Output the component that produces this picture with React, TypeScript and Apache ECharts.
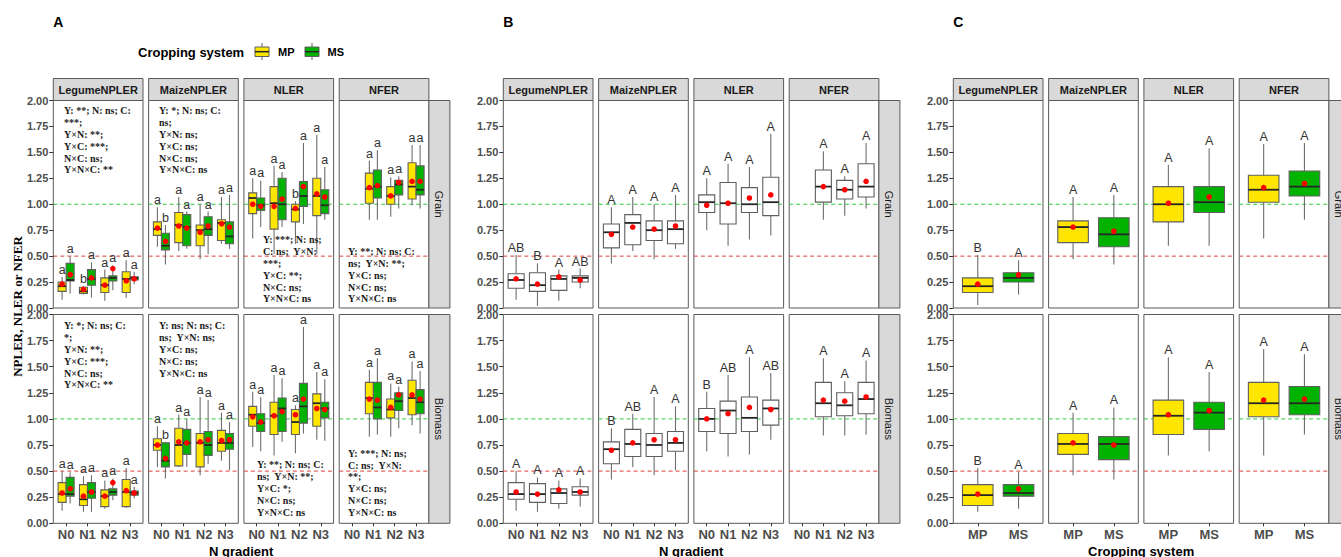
import React, { useEffect, useRef } from 'react';
import * as echarts from 'echarts';

// ---------- categories & labels ----------
const N_LEVELS = ['N0', 'N1', 'N2', 'N3'];
const SYSTEMS = ['MP', 'MS'];
const INDICES = ['LegumeNPLER', 'MaizeNPLER', 'NLER', 'NFER'];
const ROWS = ['Grain', 'Biomass'];
const PANEL_TAGS = ['A', 'B', 'C'];
const X_TITLES = ['N gradient', 'N gradient', 'Cropping system'];
const Y_TITLE = 'NPLER, NLER or NFER';
const LEGEND_TITLE = 'Cropping system';
const Y_MIN = 0;
const Y_MAX = 2;
const Y_STEP = 0.25;
const REF_LINES = [1.0, 0.5];

// ---------- data: each box = [min, q1, median, q3, max, mean] ----------
// Panel A (index x N level)
const A_GRAIN_MP = [
  [[0.08, 0.16, 0.21, 0.25, 0.30, 0.23], [0.13, 0.14, 0.16, 0.20, 0.21, 0.18], [0.07, 0.15, 0.22, 0.29, 0.37, 0.22], [0.10, 0.15, 0.28, 0.35, 0.46, 0.27]],
  [[0.59, 0.70, 0.76, 0.83, 0.97, 0.77], [0.55, 0.63, 0.80, 0.92, 1.07, 0.79], [0.47, 0.60, 0.75, 0.80, 1.00, 0.73], [0.62, 0.65, 0.82, 0.85, 1.07, 0.82]],
  [[0.67, 0.91, 1.06, 1.11, 1.25, 1.00], [0.52, 0.76, 1.01, 1.17, 1.37, 0.98], [0.62, 0.83, 0.95, 1.00, 1.03, 0.96], [0.52, 0.89, 1.08, 1.25, 1.67, 1.10]],
  [null, [0.85, 1.01, 1.15, 1.30, 1.42, 1.16], [0.88, 1.00, 1.08, 1.17, 1.26, 1.08], [0.99, 1.05, 1.17, 1.40, 1.57, 1.22]],
];
const A_GRAIN_MS = [
  [[0.14, 0.26, 0.27, 0.43, 0.50, 0.33], [0.10, 0.22, 0.28, 0.37, 0.44, 0.29], [0.17, 0.26, 0.29, 0.31, 0.41, 0.38], [0.23, 0.27, 0.29, 0.30, 0.35, 0.28]],
  [[0.42, 0.56, 0.60, 0.72, 0.80, 0.65], [0.57, 0.60, 0.78, 0.90, 0.93, 0.77], [0.52, 0.70, 0.76, 0.88, 0.93, 0.79], [0.57, 0.62, 0.69, 0.83, 1.09, 0.78]],
  [[0.78, 0.94, 0.99, 1.06, 1.23, 0.98], [0.78, 0.85, 1.00, 1.25, 1.31, 1.05], [0.81, 0.98, 1.08, 1.22, 1.59, 1.17], [0.85, 0.91, 0.99, 1.14, 1.36, 1.07]],
  [null, [0.85, 1.06, 1.17, 1.33, 1.52, 1.18], [0.96, 1.09, 1.19, 1.23, 1.27, 1.21], [0.96, 1.09, 1.14, 1.37, 1.57, 1.22]],
];
const A_BIOMASS_MP = [
  [[0.12, 0.20, 0.28, 0.39, 0.50, 0.29], [0.11, 0.17, 0.23, 0.37, 0.45, 0.26], [0.14, 0.16, 0.26, 0.32, 0.41, 0.26], [0.15, 0.16, 0.30, 0.42, 0.53, 0.32]],
  [[0.54, 0.70, 0.75, 0.81, 0.93, 0.75], [0.54, 0.55, 0.75, 0.91, 1.04, 0.78], [0.46, 0.54, 0.77, 0.86, 1.21, 0.78], [0.60, 0.69, 0.77, 0.89, 1.06, 0.80]],
  [[0.73, 0.93, 1.04, 1.12, 1.26, 1.02], [0.65, 0.85, 1.03, 1.16, 1.42, 1.03], [0.67, 0.85, 0.97, 1.09, 1.13, 1.04], [0.80, 0.93, 1.15, 1.24, 1.45, 1.10]],
  [null, [0.83, 1.05, 1.20, 1.35, 1.47, 1.19], [0.83, 1.01, 1.09, 1.19, 1.34, 1.11], [0.94, 1.04, 1.20, 1.37, 1.55, 1.23]],
];
const A_BIOMASS_MS = [
  [[0.19, 0.26, 0.28, 0.44, 0.49, 0.34], [0.11, 0.24, 0.30, 0.39, 0.46, 0.30], [0.22, 0.27, 0.30, 0.33, 0.43, 0.39], [0.24, 0.27, 0.29, 0.31, 0.35, 0.29]],
  [[0.43, 0.54, 0.60, 0.77, 0.78, 0.63], [0.54, 0.66, 0.77, 0.90, 1.00, 0.77], [0.57, 0.65, 0.75, 0.88, 1.18, 0.80], [0.51, 0.71, 0.77, 0.86, 0.97, 0.80]],
  [[0.69, 0.88, 0.96, 1.05, 1.21, 0.97], [0.78, 0.88, 1.10, 1.20, 1.39, 1.07], [0.86, 0.96, 1.12, 1.34, 1.88, 1.19], [0.79, 1.01, 1.10, 1.16, 1.38, 1.09]],
  [null, [0.85, 1.00, 1.11, 1.35, 1.58, 1.18], [0.91, 1.08, 1.17, 1.25, 1.31, 1.23], [0.86, 1.05, 1.16, 1.28, 1.46, 1.19]],
];
const A_GRAIN_MP_LETTERS = [['a', 'b', 'a', 'a'], ['a', 'a', 'a', 'a'], ['a', 'a', 'b', 'a'], ['', 'a', 'a', 'a']];
const A_GRAIN_MS_LETTERS = [['a', 'a', 'a', 'a'], ['b', 'a', 'a', 'a'], ['a', 'a', 'a', 'a'], ['', 'a', 'a', 'a']];
const A_BIOMASS_MP_LETTERS = [['a', 'a', 'a', 'a'], ['a', 'a', 'a', 'a'], ['a', 'a', 'a', 'a'], ['', 'a', 'a', 'a']];
const A_BIOMASS_MS_LETTERS = [['a', 'a', 'a', 'a'], ['b', 'a', 'a', 'a'], ['a', 'a', 'a', 'a'], ['', 'a', 'a', 'a']];

// Panel B (index x N level)
const B_GRAIN = [
  [[0.08, 0.19, 0.27, 0.33, 0.51, 0.28], [0.02, 0.16, 0.22, 0.34, 0.43, 0.23], [0.07, 0.17, 0.28, 0.31, 0.37, 0.30], [0.19, 0.25, 0.29, 0.31, 0.38, 0.27]],
  [[0.43, 0.58, 0.73, 0.81, 0.97, 0.71], [0.55, 0.61, 0.82, 0.90, 1.07, 0.78], [0.47, 0.65, 0.75, 0.84, 1.00, 0.76], [0.57, 0.62, 0.76, 0.84, 1.09, 0.79]],
  [[0.75, 0.92, 1.02, 1.09, 1.25, 0.99], [0.60, 0.81, 1.01, 1.21, 1.39, 1.01], [0.66, 0.92, 1.00, 1.16, 1.36, 1.06], [0.70, 0.89, 1.02, 1.26, 1.68, 1.09]],
  [null, [0.85, 1.02, 1.17, 1.33, 1.51, 1.17], [0.89, 1.05, 1.14, 1.23, 1.27, 1.14], [0.96, 1.07, 1.17, 1.39, 1.59, 1.22]],
];
const B_BIOMASS = [
  [[0.12, 0.23, 0.28, 0.39, 0.50, 0.30], [0.11, 0.20, 0.28, 0.38, 0.44, 0.28], [0.14, 0.19, 0.29, 0.33, 0.41, 0.32], [0.16, 0.27, 0.30, 0.35, 0.43, 0.30]],
  [[0.42, 0.57, 0.71, 0.78, 0.91, 0.70], [0.54, 0.64, 0.76, 0.90, 1.05, 0.77], [0.46, 0.64, 0.75, 0.86, 1.21, 0.80], [0.51, 0.69, 0.77, 0.88, 1.12, 0.80]],
  [[0.69, 0.88, 1.00, 1.10, 1.26, 1.00], [0.64, 0.86, 1.08, 1.17, 1.42, 1.05], [0.66, 0.88, 1.01, 1.21, 1.59, 1.11], [0.80, 0.94, 1.10, 1.18, 1.44, 1.09]],
  [null, [0.84, 1.02, 1.15, 1.35, 1.58, 1.18], [0.84, 1.03, 1.13, 1.25, 1.36, 1.17], [0.85, 1.05, 1.19, 1.35, 1.56, 1.21]],
];
const B_GRAIN_LETTERS = [['AB', 'B', 'A', 'AB'], ['A', 'A', 'A', 'A'], ['A', 'A', 'A', 'A'], ['', 'A', 'A', 'A']];
const B_BIOMASS_LETTERS = [['A', 'A', 'A', 'A'], ['B', 'AB', 'A', 'A'], ['B', 'AB', 'A', 'AB'], ['', 'A', 'A', 'A']];

// Panel C (index x cropping system)
const C_GRAIN = [
  [[0.03, 0.15, 0.21, 0.29, 0.51, 0.23], [0.13, 0.25, 0.29, 0.34, 0.46, 0.32]],
  [[0.47, 0.63, 0.78, 0.84, 1.07, 0.78], [0.42, 0.59, 0.71, 0.87, 1.09, 0.74]],
  [[0.60, 0.83, 1.00, 1.17, 1.38, 1.01], [0.60, 0.92, 1.02, 1.17, 1.54, 1.07]],
  [[0.67, 1.02, 1.14, 1.28, 1.58, 1.16], [0.85, 1.08, 1.17, 1.32, 1.59, 1.20]],
];
const C_BIOMASS = [
  [[0.11, 0.17, 0.27, 0.37, 0.53, 0.28], [0.14, 0.26, 0.29, 0.37, 0.49, 0.33]],
  [[0.46, 0.66, 0.76, 0.86, 1.06, 0.77], [0.42, 0.61, 0.76, 0.83, 1.11, 0.75]],
  [[0.65, 0.85, 1.03, 1.18, 1.59, 1.04], [0.69, 0.90, 1.06, 1.16, 1.45, 1.08]],
  [[0.65, 1.02, 1.15, 1.35, 1.67, 1.18], [0.85, 1.04, 1.15, 1.31, 1.62, 1.19]],
];
const C_GRAIN_LETTERS = [['B', 'A'], ['A', 'A'], ['A', 'A'], ['A', 'A']];
const C_BIOMASS_LETTERS = [['B', 'A'], ['A', 'A'], ['A', 'A'], ['A', 'A']];

// Significance annotations for panel A (row x index)
const A_ANNOTATIONS = [
  [
    ['Y: **; N: ns; C:', '***;', 'Y×N: **;', 'Y×C: ***;', 'N×C: ns;', 'Y×N×C: **'],
    ['Y: *; N: ns; C:', 'ns;', 'Y×N: ns;', 'Y×C: ns;', 'N×C: ns;', 'Y×N×C: ns'],
    ['Y: ***; N: ns;', 'C: ns;  Y×N:', '***;', 'Y×C: **;', 'N×C: ns;', 'Y×N×C: ns'],
    ['Y: **; N: ns; C:', 'ns;  Y×N: **;', 'Y×C: ns;', 'N×C: ns;', 'Y×N×C: ns'],
  ],
  [
    ['Y: *; N: ns; C:', '*;', 'Y×N: **;', 'Y×C: ***;', 'N×C: ns;', 'Y×N×C: **'],
    ['Y: ns; N: ns; C:', 'ns;  Y×N: ns;', 'Y×C: ns;', 'N×C: ns;', 'Y×N×C: ns'],
    ['Y: **; N: ns; C:', 'ns;  Y×N: **;', 'Y×C: *;', 'N×C: ns;', 'Y×N×C: ns'],
    ['Y: ***; N: ns;', 'C: ns;  Y×N:', '**;', 'Y×C: ns;', 'N×C: ns;', 'Y×N×C: ns'],
  ],
];

// ---------- layout & style ----------
const SANS = '"Liberation Sans", Arial, sans-serif';
const SERIF = '"Liberation Serif", "Times New Roman", serif';
const PANEL_LEFT = [53.3, 503.3, 953.3];
const FACET_STEP = 95.3;
const FACET_W = 89.7;
const ROW_TOP = [100.5, 314.5];
const ROW_H = [207.5, 208.8];
const STRIP_TOP = 78.5;
const STRIP_H = 22;
const RSTRIP_W = 21;
// [dx from facet left, centre of first line from row top]
const ANNOT_POS = [
  [[10.7, 10.5], [10.4, 10.5], [19, 139.5], [8.8, 151.2]],
  [[10.7, 11.5], [10.4, 11.5], [13, 150.5], [8.8, 138.8]],
];
const ANNOT_LH = 11.8;

const YELLOW = '#FFE600';
const GREEN = '#00B300';
const WHITE = '#FFFFFF';
const BOX_STROKE = '#5f5f5f';
const WHISKER = '#6e6e6e';
const MEDIAN = '#262626';
const MEAN_C = '#FF0000';
const BORDER = '#5a5a5a';
const STRIP_FILL = '#d9d9d9';
const REF_COLORS = ['#2ecc40', '#d9413a'];
const TICK_C = '#4d4d4d';

type Item = { x: number; stat: number[]; fill: string; w: number; letter: string };

const A_MP = [A_GRAIN_MP, A_BIOMASS_MP];
const A_MS = [A_GRAIN_MS, A_BIOMASS_MS];
const A_MP_L = [A_GRAIN_MP_LETTERS, A_BIOMASS_MP_LETTERS];
const A_MS_L = [A_GRAIN_MS_LETTERS, A_BIOMASS_MS_LETTERS];
const B_DATA = [B_GRAIN, B_BIOMASS];
const B_L = [B_GRAIN_LETTERS, B_BIOMASS_LETTERS];
const C_DATA = [C_GRAIN, C_BIOMASS];
const C_L = [C_GRAIN_LETTERS, C_BIOMASS_LETTERS];

function facetItems(p: number, r: number, k: number): Item[] {
  const out: Item[] = [];
  if (p === 0) {
    N_LEVELS.forEach((_, n) => {
      const mp = A_MP[r][k][n] as number[] | null;
      const ms = A_MS[r][k][n] as number[] | null;
      if (mp) out.push({ x: n - 0.1875, stat: mp, fill: YELLOW, w: 0.375, letter: A_MP_L[r][k][n] });
      if (ms) out.push({ x: n + 0.1875, stat: ms, fill: GREEN, w: 0.375, letter: A_MS_L[r][k][n] });
    });
  } else if (p === 1) {
    N_LEVELS.forEach((_, n) => {
      const s = B_DATA[r][k][n] as number[] | null;
      if (s) out.push({ x: n, stat: s, fill: WHITE, w: 0.75, letter: B_L[r][k][n] });
    });
  } else {
    SYSTEMS.forEach((_, si) => {
      const s = C_DATA[r][k][si] as number[];
      out.push({ x: si, stat: s, fill: si === 0 ? YELLOW : GREEN, w: 0.75, letter: C_L[r][k][si] });
    });
  }
  return out;
}

function txt(x: number, y: number, text: string, font: string, fill: string, align: string, valign: string, extra: any = {}) {
  return {
    type: 'text',
    x,
    y,
    silent: true,
    z: 10,
    ...extra,
    style: { text, font, fill, align, verticalAlign: valign, textAlign: align, textVerticalAlign: valign, ...(extra.style || {}) },
  };
}

function buildOption() {
  const grid: any[] = [];
  const xAxis: any[] = [];
  const yAxis: any[] = [];
  const series: any[] = [];
  const graphic: any[] = [];

  for (let p = 0; p < 3; p++) {
    const cats = p === 2 ? SYSTEMS : N_LEVELS;
    const nCat = cats.length;
    for (let r = 0; r < 2; r++) {
      for (let k = 0; k < 4; k++) {
        const gi = grid.length;
        const left = PANEL_LEFT[p] + k * FACET_STEP;
        grid.push({
          left,
          top: ROW_TOP[r],
          width: FACET_W,
          height: ROW_H[r],
          show: true,
          borderColor: BORDER,
          borderWidth: 1,
          backgroundColor: '#fff',
          containLabel: false,
          outerBoundsMode: 'none',
        });
        const ticks = cats.map((_, i) => i);
        xAxis.push({
          type: 'value',
          gridIndex: gi,
          position: 'bottom',
          min: -0.6,
          max: nCat - 0.4,
          axisLine: { show: false, onZero: false },
          splitLine: { show: false },
          axisTick: { show: r === 1, customValues: ticks, length: 3, lineStyle: { color: '#333' } },
          axisLabel: {
            show: r === 1,
            customValues: ticks,
            formatter: (v: number) => cats[Math.round(v)] ?? '',
            fontSize: 13,
            fontWeight: 'bold',
            fontFamily: SANS,
            color: TICK_C,
            margin: 5,
          },
        });
        yAxis.push({
          type: 'value',
          gridIndex: gi,
          position: 'left',
          min: Y_MIN,
          max: Y_MAX,
          interval: Y_STEP,
          axisLine: { show: false, onZero: false },
          splitLine: { show: false },
          axisTick: { show: k === 0, length: 4, lineStyle: { color: '#333' } },
          axisLabel: {
            show: k === 0,
            formatter: (v: number) => v.toFixed(2),
            fontSize: 11,
            fontWeight: 'bold',
            fontFamily: SANS,
            color: TICK_C,
            margin: 5,
          },
        });

        // reference lines at 1.0 and 0.5
        series.push({
          type: 'custom',
          xAxisIndex: gi,
          yAxisIndex: gi,
          silent: true,
          z: 1,
          data: REF_LINES.map((v, i) => [0, v, i]),
          renderItem: (params: any, api: any) => {
            const cs = params.coordSys;
            const y = api.coord([0, api.value(1)])[1];
            const ci = api.value(2);
            return {
              type: 'line',
              shape: { x1: cs.x, y1: y, x2: cs.x + cs.width, y2: y },
              style: { stroke: REF_COLORS[ci], lineWidth: 1, lineDash: [4, 3] },
            };
          },
        });

        // box plots, means and letters
        const items = facetItems(p, r, k);
        series.push({
          type: 'custom',
          xAxisIndex: gi,
          yAxisIndex: gi,
          silent: true,
          z: 3,
          data: items.map((it) => [it.x, it.stat[0], it.stat[4]]),
          encode: { x: 0, y: [1, 2] },
          renderItem: (params: any, api: any) => {
            const it = items[params.dataIndex];
            const s = it.stat;
            const unit = api.size([1, 0])[0];
            const cx = api.coord([it.x, 0])[0];
            const hw = (it.w * unit) / 2;
            const yy = (v: number) => api.coord([it.x, v])[1];
            const yMin = yy(s[0]);
            const yQ1 = yy(s[1]);
            const yMed = yy(s[2]);
            const yQ3 = yy(s[3]);
            const yMax = yy(s[4]);
            const yMean = yy(s[5]);
            return {
              type: 'group',
              children: [
                { type: 'line', shape: { x1: cx, y1: yMin, x2: cx, y2: yQ1 }, style: { stroke: WHISKER, lineWidth: 1.1 } },
                { type: 'line', shape: { x1: cx, y1: yQ3, x2: cx, y2: yMax }, style: { stroke: WHISKER, lineWidth: 1.1 } },
                {
                  type: 'rect',
                  shape: { x: cx - hw, y: yQ3, width: 2 * hw, height: yQ1 - yQ3 },
                  style: { fill: it.fill, stroke: BOX_STROKE, lineWidth: 1.1 },
                },
                { type: 'line', shape: { x1: cx - hw, y1: yMed, x2: cx + hw, y2: yMed }, style: { stroke: MEDIAN, lineWidth: 1.8 } },
                { type: 'circle', shape: { cx, cy: yMean, r: 2.8 }, style: { fill: MEAN_C } },
                {
                  type: 'text',
                  x: cx,
                  y: yMax - 0.5,
                  style: {
                    text: it.letter,
                    font: `12.5px ${SANS}`,
                    fill: '#333',
                    align: 'center',
                    verticalAlign: 'bottom',
                    textAlign: 'center',
                    textVerticalAlign: 'bottom',
                  },
                },
              ],
            };
          },
        });
      }
    }

    // top strips
    for (let k = 0; k < 4; k++) {
      const left = PANEL_LEFT[p] + k * FACET_STEP;
      graphic.push({
        type: 'rect',
        silent: true,
        z: 5,
        shape: { x: left, y: STRIP_TOP, width: FACET_W, height: STRIP_H },
        style: { fill: STRIP_FILL, stroke: BORDER, lineWidth: 1 },
      });
      graphic.push(txt(left + FACET_W / 2, STRIP_TOP + STRIP_H / 2 + 0.5, INDICES[k], `bold 11px ${SANS}`, '#1a1a1a', 'center', 'middle'));
    }
    // right strips
    const rx = PANEL_LEFT[p] + 3 * FACET_STEP + FACET_W;
    for (let r = 0; r < 2; r++) {
      graphic.push({
        type: 'rect',
        silent: true,
        z: 5,
        shape: { x: rx, y: ROW_TOP[r], width: RSTRIP_W, height: ROW_H[r] },
        style: { fill: STRIP_FILL, stroke: BORDER, lineWidth: 1 },
      });
      graphic.push(
        txt(rx + RSTRIP_W / 2, ROW_TOP[r] + ROW_H[r] / 2, ROWS[r], `11px ${SANS}`, '#1a1a1a', 'center', 'middle', {
          rotation: -Math.PI / 2,
        })
      );
    }
    // panel tag and x title
    graphic.push(txt(PANEL_LEFT[p], 21.5, PANEL_TAGS[p], `bold 14px ${SANS}`, '#000', 'left', 'middle'));
    const panelW = 3 * FACET_STEP + FACET_W;
    graphic.push(txt(PANEL_LEFT[p] + panelW / 2, 545, X_TITLES[p], `bold 13px ${SANS}`, '#000', 'center', 'top'));
  }

  // y title
  graphic.push(txt(17, 306.5, Y_TITLE, `bold 13px ${SERIF}`, '#000', 'center', 'middle', { rotation: Math.PI / 2 }));

  // legend
  graphic.push(txt(138, 52, LEGEND_TITLE, `bold 13px ${SANS}`, '#000', 'left', 'middle'));
  const legendKeys = [
    { x: 255, fill: YELLOW, label: SYSTEMS[0], lx: 278 },
    { x: 305, fill: GREEN, label: SYSTEMS[1], lx: 327.5 },
  ];
  legendKeys.forEach((lk) => {
    graphic.push({ type: 'line', silent: true, z: 5, shape: { x1: lk.x + 7, y1: 43, x2: lk.x + 7, y2: 60 }, style: { stroke: WHISKER, lineWidth: 1.1 } });
    graphic.push({ type: 'rect', silent: true, z: 6, shape: { x: lk.x, y: 47, width: 14, height: 9.5 }, style: { fill: lk.fill, stroke: BOX_STROKE, lineWidth: 1 } });
    graphic.push({ type: 'line', silent: true, z: 7, shape: { x1: lk.x, y1: 51.7, x2: lk.x + 14, y2: 51.7 }, style: { stroke: MEDIAN, lineWidth: 1.5 } });
    graphic.push(txt(lk.lx, 52, lk.label, `bold 11px ${SANS}`, '#000', 'left', 'middle'));
  });

  // annotations (panel A)
  for (let r = 0; r < 2; r++) {
    for (let k = 0; k < 4; k++) {
      const [dx, dy] = ANNOT_POS[r][k];
      graphic.push(
        txt(PANEL_LEFT[0] + k * FACET_STEP + dx, ROW_TOP[r] + dy - ANNOT_LH / 2, A_ANNOTATIONS[r][k].join('\n'), `bold 10px ${SERIF}`, '#1a1a1a', 'left', 'top', {
          style: { lineHeight: ANNOT_LH },
        })
      );
    }
  }

  return {
    animation: false,
    backgroundColor: '#fff',
    grid,
    xAxis,
    yAxis,
    series,
    graphic: { elements: graphic },
  };
}

export default function App() {
  const ref = useRef<HTMLDivElement>(null);
  useEffect(() => {
    if (!ref.current) return;
    const chart = echarts.init(ref.current, null, { renderer: 'svg' });
    chart.setOption(buildOption() as any);
    return () => chart.dispose();
  }, []);
  return (
    <div
      ref={ref}
      style={{ position: 'absolute', left: 0, top: 0, width: 1341, height: 557, background: '#fff' }}
    />
  );
}
